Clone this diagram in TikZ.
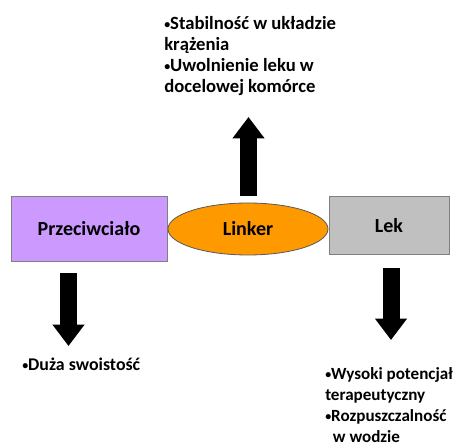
\documentclass[tikz,border=0pt]{standalone}
\usepackage{fontspec}
\setmainfont{Carlito}
\usetikzlibrary{arrows.meta,shapes.geometric}
\definecolor{lilac}{HTML}{CC99FF}
\definecolor{amber}{HTML}{FF9900}
\definecolor{silver}{HTML}{C0C0C0}
\newcommand\pkt{{\fontsize{9}{9}\selectfont\raisebox{1.2pt}{•}}}
\begin{document}
\begin{tikzpicture}[x=0.75pt,y=-0.75pt,
  box/.style={draw=black!50,line width=0.6pt,inner sep=0pt},
  fatarrow/.style={line width=12.75pt,-{Triangle[width=23pt,length=16pt]}},
  notes/.style={anchor=base west,align=left,inner sep=0pt,font=\bfseries\fontsize{12.8}{15.75}\selectfont}]
  \tikzstyle{every node}+=[font=\bfseries\fontsize{15}{16}\selectfont]
  \useasboundingbox (0,0) rectangle (461,448);
  \node [box,fill=lilac,minimum width=117pt,minimum height=49pt] (przeciw) at (89,229) {Przeciwciało};
  \node [box,fill=silver,minimum width=90pt,minimum height=44pt] (lek) at (389,225.5) {Lek};
  \node [box,ellipse,draw=black!65,fill=amber,minimum width=120pt,minimum height=39pt] (linker) at (248,229) {Linker};
  % arrows
  \coordinate (upfrom) at (248.5,196);
  \coordinate (upto) at (248.5,117);
  \coordinate (leftfrom) at (68.5,273);
  \coordinate (leftto) at (68.5,346);
  \coordinate (rightfrom) at (391,268);
  \coordinate (rightto) at (391,340);
  \draw [fatarrow] (upfrom) -- (upto);
  \draw [fatarrow] (leftfrom) -- (leftto);
  \draw [fatarrow] (rightfrom) -- (rightto);
  % texts (anchored at the last line)
  \node [notes,font=\bfseries\fontsize{14}{15.75}\selectfont] (stabil) at (164,93) {\pkt Stabilność w układzie\\krążenia\\\pkt Uwolnienie leku w\\docelowej komórce};
  \node [notes,font=\bfseries\fontsize{13.4}{15.75}\selectfont] (swoist) at (22,371) {\pkt Duża swoistość};
  \node [notes] (potenc) at (325,443) {\pkt Wysoki potencjał\\terapeutyczny\\\pkt Rozpuszczalność\\\hspace{0.45em}w wodzie};
\end{tikzpicture}
\end{document}
